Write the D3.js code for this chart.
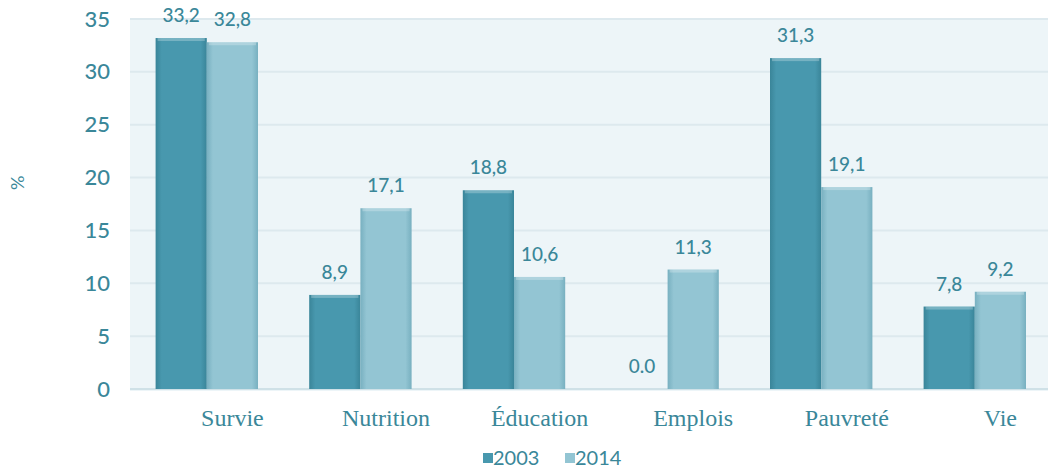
<!DOCTYPE html>
<html>
<head>
<meta charset="utf-8">
<script src="https://cdn.jsdelivr.net/npm/d3@7"></script>
<style>
	body { margin: 0; background: #fff; }
	svg { display: block; }
</style>
</head>
<body>
<div id="graphic"></div>
<script>
var CATEGORIES = ["Survie", "Nutrition", "Éducation", "Emplois", "Pauvreté", "Vie"]
var SERIES = ["2003", "2014"]
var VALUES_2003 = [33.2, 8.9, 18.8, 0.0, 31.3, 7.8]
var VALUES_2014 = [32.8, 17.1, 10.6, 11.3, 19.1, 9.2]
var Y_TICKS = [0, 5, 10, 15, 20, 25, 30, 35]

var width = 1048
var height = 473
var margins = {top: 19, bottom: 84, left: 130, right: -4}
var graphHeight = height - margins.top - margins.bottom

var colors = {"2003": "#4898ae", "2014": "#93c5d3"}
var edges = {"2003": "#3a8599", "2014": "#78b0c0"}
var textColor = "#3a8799"

var svg = d3.select("#graphic")
	.append("svg")
	.attr("width", width)
	.attr("height", height)

var defs = svg.append("defs")
SERIES.forEach(function(s){
	var g = defs.append("linearGradient")
		.attr("id", "grad" + s)
		.attr("x1", 0).attr("x2", 1).attr("y1", 0).attr("y2", 0)
	g.append("stop").attr("offset", "0%").attr("stop-color", edges[s])
	g.append("stop").attr("offset", "12%").attr("stop-color", colors[s])
	g.append("stop").attr("offset", "88%").attr("stop-color", colors[s])
	g.append("stop").attr("offset", "100%").attr("stop-color", edges[s])
})

var x = d3.scaleBand()
	.domain(CATEGORIES)
	.range([margins.left, margins.left + 6 * 153.6])
	.paddingInner(1/3)
	.paddingOuter(1/6)
var xSeries = d3.scaleBand()
	.domain(SERIES)
	.range([0, x.bandwidth()])
var y = d3.scaleLinear()
	.domain([0, 35])
	.range([margins.top + graphHeight, margins.top])

// plot background
svg.append("rect")
	.attr("x", margins.left)
	.attr("y", y(35))
	.attr("width", width - margins.left)
	.attr("height", y(0) - y(35) + 2)
	.attr("fill", "#edf5f8")

// gridlines
svg.append("g")
	.selectAll("line")
	.data(Y_TICKS)
	.enter()
	.append("line")
	.attr("x1", margins.left)
	.attr("x2", width)
	.attr("y1", function(d){ return y(d) })
	.attr("y2", function(d){ return y(d) })
	.attr("stroke", function(d){ return d == 0 ? "#cfe1e7" : "#dde9ee" })
	.attr("stroke-width", 2)

// y axis
var yAxis = svg.append("g")
	.attr("transform", "translate(" + margins.left + ",0)")
	.call(d3.axisLeft(y).tickValues(Y_TICKS).tickSize(0).tickPadding(20))
yAxis.select(".domain").remove()
yAxis.selectAll("text")
	.attr("fill", textColor)
	.style("font-family", "Lato, 'Open Sans', sans-serif")
	.style("font-size", "22px")
	.style("font-weight", "500")

svg.append("text")
	.attr("transform", "translate(18," + y(19.5) + ") rotate(-90)")
	.attr("text-anchor", "middle")
	.attr("dy", "0.35em")
	.attr("fill", textColor)
	.style("font-family", "Lato, sans-serif")
	.style("font-size", "18px")
	.text("%")

var rows = CATEGORIES.map(function(c, i){
	return {cat: c, values: [
		{series: "2003", value: VALUES_2003[i]},
		{series: "2014", value: VALUES_2014[i]}
	]}
})

var fmt = function(v){
	if(v == 0) return "0.0"
	return d3.format(".1f")(v).replace(".", ",")
}

var groups = svg.selectAll(".group")
	.data(rows)
	.enter()
	.append("g")
	.attr("class", "group")
	.attr("transform", function(d){ return "translate(" + x(d.cat) + ",0)" })

groups.selectAll("rect")
	.data(function(d){ return d.values })
	.enter()
	.append("rect")
	.attr("x", function(d){ return xSeries(d.series) })
	.attr("y", function(d){ return y(d.value) })
	.attr("width", xSeries.bandwidth())
	.attr("height", function(d){ return y(0) - y(d.value) })
	.attr("fill", function(d){ return "url(#grad" + d.series + ")" })

// top bevel
groups.selectAll(".bevel")
	.data(function(d){ return d.values.filter(function(v){ return v.value > 0 }) })
	.enter()
	.append("rect")
	.attr("class", "bevel")
	.attr("x", function(d){ return xSeries(d.series) + 2 })
	.attr("y", function(d){ return y(d.value) })
	.attr("width", xSeries.bandwidth() - 4)
	.attr("height", 3)
	.attr("fill", "#ffffff")
	.attr("opacity", 0.25)

groups.selectAll(".valueLabel")
	.data(function(d){ return d.values })
	.enter()
	.append("text")
	.attr("class", "valueLabel")
	.attr("x", function(d){ return xSeries(d.series) + xSeries.bandwidth() / 2 })
	.attr("y", function(d){ return y(d.value) - 16 })
	.attr("text-anchor", "middle")
	.attr("fill", textColor)
	.style("font-family", "Lato, 'Open Sans', sans-serif")
	.style("font-size", "19px")
	.style("font-weight", "500")
	.text(function(d){ return fmt(d.value) })

// category labels
groups.append("text")
	.attr("x", xSeries("2014") + xSeries.bandwidth() / 2)
	.attr("y", 426)
	.attr("text-anchor", "middle")
	.attr("fill", textColor)
	.style("font-family", "'Liberation Serif', serif")
	.style("font-size", "24px")
	.text(function(d){ return d.cat })

// legend
var legend = svg.append("g")
	.attr("transform", "translate(483,458)")
var legendX = d3.scaleOrdinal().domain(SERIES).range([0, 82])
var items = legend.selectAll(".legendItem")
	.data(SERIES)
	.enter()
	.append("g")
	.attr("class", "legendItem")
	.attr("transform", function(d){ return "translate(" + legendX(d) + ",0)" })
items.append("rect")
	.attr("x", 0)
	.attr("y", -5)
	.attr("width", 10)
	.attr("height", 10)
	.attr("fill", function(d){ return colors[d] })
items.append("text")
	.attr("x", 10)
	.attr("dy", "0.35em")
	.attr("fill", textColor)
	.style("font-family", "Lato, 'Open Sans', sans-serif")
	.style("font-size", "20px")
	.text(function(d){ return d })
</script>
</body>
</html>
